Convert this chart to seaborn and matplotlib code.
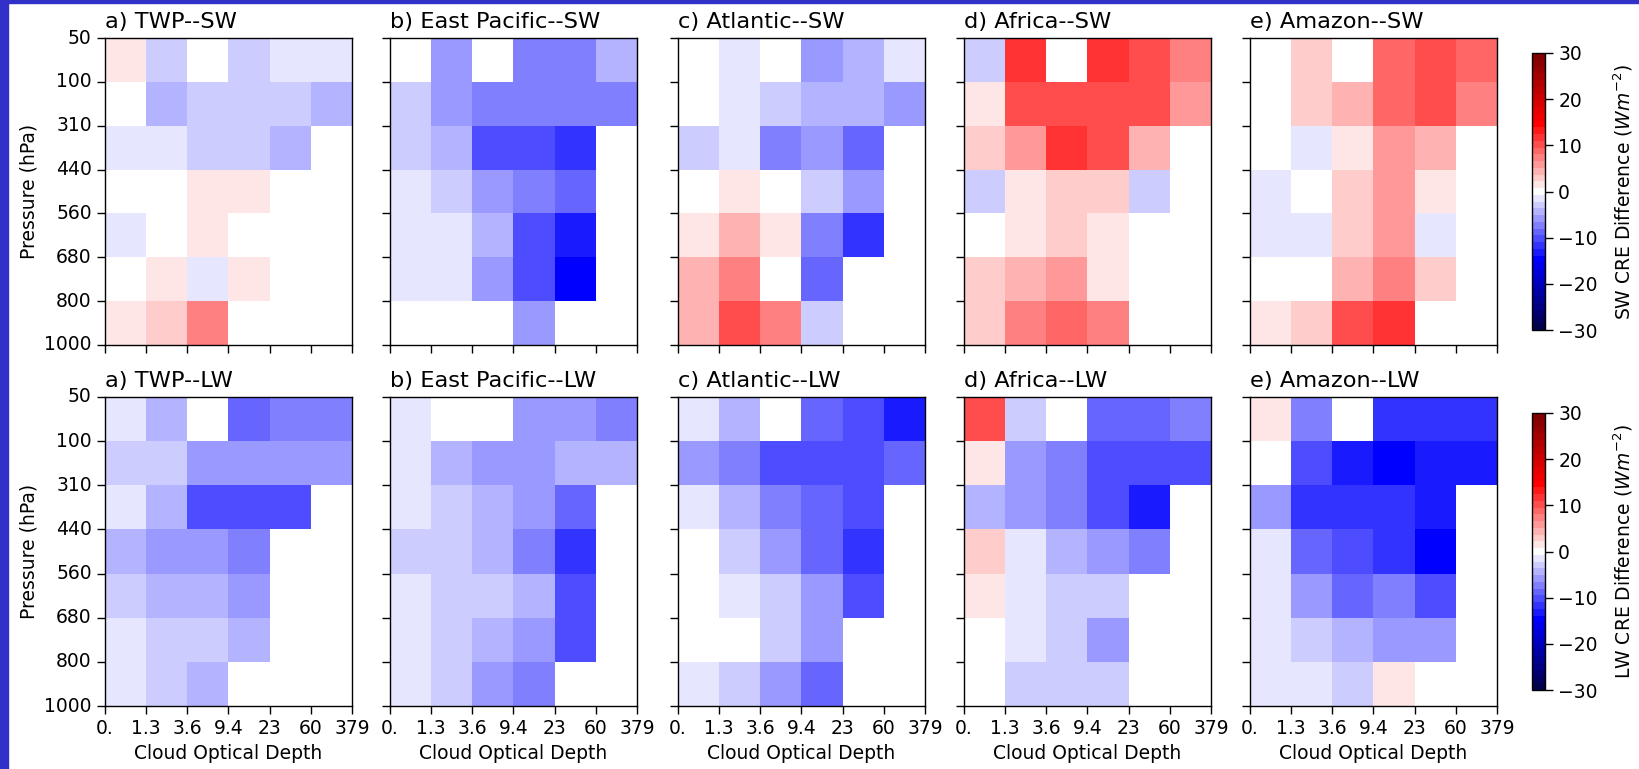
import numpy as np
import pandas as pd
import matplotlib
matplotlib.use("Agg")
import matplotlib.pyplot as plt
import seaborn as sns
from matplotlib.patches import Rectangle
from matplotlib.cm import ScalarMappable
from matplotlib.colors import Normalize

# ---------------- data (W m^-2) ----------------
tau_labels = ['0.', '1.3', '3.6', '9.4', '23', '60', '379']
p_labels = ['50', '100', '310', '440', '560', '680', '800', '1000']
regions = ['a) TWP', 'b) East Pacific', 'c) Atlantic', 'd) Africa', 'e) Amazon']

twp_sw = [[1.5, -3, 0, -3, -1.5, -1.5],
          [0, -4.5, -3, -3, -3, -4.5],
          [-1.5, -1.5, -3, -3, -4.5, 0],
          [0, 0, 1.5, 1.5, 0, 0],
          [-1.5, 0, 1.5, 0, 0, 0],
          [0, 1.5, -1.5, 1.5, 0, 0],
          [1.5, 3, 7.5, 0, 0, 0]]
epac_sw = [[0, -6, 0, -7.5, -7.5, -4.5],
           [-3, -6, -7.5, -7.5, -7.5, -7.5],
           [-3, -4.5, -10.5, -10.5, -12, 0],
           [-1.5, -3, -6, -7.5, -9, 0],
           [-1.5, -1.5, -4.5, -10.5, -13.5, 0],
           [-1.5, -1.5, -6, -10.5, -15, 0],
           [0, 0, 0, -6, 0, 0]]
atl_sw = [[0, -1.5, 0, -6, -4.5, -1.5],
          [0, -1.5, -3, -4.5, -4.5, -6],
          [-3, -1.5, -7.5, -6, -9, 0],
          [0, 1.5, 0, -3, -6, 0],
          [1.5, 4.5, 1.5, -7.5, -12, 0],
          [4.5, 7.5, 0, -9, 0, 0],
          [4.5, 10.5, 7.5, -3, 0, 0]]
afr_sw = [[-3, 12, 0, 12, 10.5, 7.5],
          [1.5, 10.5, 10.5, 10.5, 10.5, 6],
          [3, 6, 12, 10.5, 4.5, 0],
          [-3, 1.5, 3, 3, -3, 0],
          [0, 1.5, 3, 1.5, 0, 0],
          [3, 4.5, 6, 1.5, 0, 0],
          [3, 7.5, 9, 7.5, 0, 0]]
amz_sw = [[0, 3, 0, 9, 10.5, 9],
          [0, 3, 4.5, 9, 10.5, 7.5],
          [0, -1.5, 1.5, 6, 4.5, 0],
          [-1.5, 0, 3, 6, 1.5, 0],
          [-1.5, -1.5, 3, 6, -1.5, 0],
          [0, 0, 4.5, 7.5, 3, 0],
          [1.5, 3, 10.5, 12, 0, 0]]

twp_lw = [[-1.5, -4.5, 0, -9, -7.5, -7.5],
          [-3, -3, -6, -6, -6, -6],
          [-1.5, -4.5, -10.5, -10.5, -10.5, 0],
          [-4.5, -6, -6, -7.5, 0, 0],
          [-3, -4.5, -4.5, -6, 0, 0],
          [-1.5, -3, -3, -4.5, 0, 0],
          [-1.5, -3, -4.5, 0, 0, 0]]
epac_lw = [[-1.5, 0, 0, -6, -6, -7.5],
           [-1.5, -4.5, -6, -6, -4.5, -4.5],
           [-1.5, -3, -4.5, -6, -9, 0],
           [-3, -3, -4.5, -7.5, -12, 0],
           [-1.5, -3, -3, -4.5, -10.5, 0],
           [-1.5, -3, -4.5, -6, -10.5, 0],
           [-1.5, -3, -6, -7.5, 0, 0]]
atl_lw = [[-1.5, -4.5, 0, -9, -10.5, -13.5],
          [-6, -7.5, -10.5, -10.5, -10.5, -9],
          [-1.5, -4.5, -7.5, -9, -10.5, 0],
          [0, -3, -6, -9, -12, 0],
          [0, -1.5, -3, -6, -10.5, 0],
          [0, 0, -3, -6, 0, 0],
          [-1.5, -3, -6, -9, 0, 0]]
afr_lw = [[10.5, -3, 0, -9, -9, -7.5],
          [1.5, -6, -7.5, -10.5, -10.5, -10.5],
          [-4.5, -6, -7.5, -10.5, -13.5, 0],
          [3, -1.5, -4.5, -6, -7.5, 0],
          [1.5, -1.5, -3, -3, 0, 0],
          [0, -1.5, -3, -6, 0, 0],
          [0, -3, -3, -3, 0, 0]]
amz_lw = [[1.5, -7.5, 0, -12, -12, -12],
          [0, -10.5, -13.5, -15, -13.5, -13.5],
          [-6, -12, -12, -12, -13.5, 0],
          [-1.5, -9, -10.5, -12, -15, 0],
          [-1.5, -6, -9, -7.5, -10.5, 0],
          [-1.5, -3, -4.5, -6, -6, 0],
          [-1.5, -1.5, -3, 1.5, 0, 0]]

sw_sets = [twp_sw, epac_sw, atl_sw, afr_sw, amz_sw]
lw_sets = [twp_lw, epac_lw, atl_lw, afr_lw, amz_lw]

# ---------------- figure ----------------
W, H = 1640, 769
fig = plt.figure(figsize=(W / 100, H / 100), dpi=100)
plt.rcParams['font.family'] = ['DejaVu Sans']
FS = 13.5
cmap = plt.get_cmap('seismic', 41)
vmin, vmax = -30, 30

col_x = [105, 390, 678, 964, 1250]
ax_w = 247
rows_y = [(38, 345), (397, 706)]


def px_rect(x0, y0, x1, y1):
    return [x0 / W, 1 - y1 / H, (x1 - x0) / W, (y1 - y0) / H]


for r, (sets, tag) in enumerate([(sw_sets, 'SW'), (lw_sets, 'LW')]):
    y0, y1 = rows_y[r]
    for c, data in enumerate(sets):
        ax = fig.add_axes(px_rect(col_x[c], y0, col_x[c] + ax_w, y1))
        df = pd.DataFrame(np.array(data, dtype=float),
                          index=p_labels[:-1], columns=tau_labels[:-1])
        sns.heatmap(df, ax=ax, cmap=cmap, vmin=vmin, vmax=vmax, cbar=False,
                    linewidths=0)
        for sp in ax.spines.values():
            sp.set_visible(True)
            sp.set_color('black')
            sp.set_linewidth(1.0)
        ax.set_xticks(np.arange(len(tau_labels)))
        ax.set_yticks(np.arange(len(p_labels)))
        ax.tick_params(direction='out', length=6, width=1, labelsize=FS,
                       colors='black')
        if r == 1:
            ax.set_xticklabels(tau_labels, rotation=0)
            ax.set_xlabel('Cloud Optical Depth', fontsize=FS)
        else:
            ax.set_xticklabels([])
            ax.set_xlabel('')
        if c == 0:
            ax.set_yticklabels(p_labels, rotation=0)
            ax.set_ylabel('Pressure (hPa)', fontsize=FS)
        else:
            ax.set_yticklabels([])
            ax.set_ylabel('')
        ax.set_title(f'{regions[c]}--{tag}', loc='left', fontsize=16.2, pad=7)

    # colorbar
    cy0, cy1 = (53, 330) if r == 0 else (413, 690)
    cax = fig.add_axes(px_rect(1532, cy0, 1545, cy1))
    sm = ScalarMappable(norm=Normalize(vmin, vmax), cmap=cmap)
    cb = fig.colorbar(sm, cax=cax, ticks=[-30, -20, -10, 0, 10, 20, 30])
    cb.ax.tick_params(labelsize=FS, length=6, width=1)
    cb.outline.set_linewidth(1.0)
    cb.set_label(f'{tag} CRE Difference ($Wm^{{-2}}$)', fontsize=FS, labelpad=10)

# screenshot frame (left and top strips)
frame_col = '#3131c9'
fig.patches.append(Rectangle((0, 0), 8 / W, 1, transform=fig.transFigure,
                             color=frame_col, zorder=10))
fig.patches.append(Rectangle((0, 1 - 3 / H), 1, 3 / H, transform=fig.transFigure,
                             color=frame_col, zorder=10))

fig.savefig('out.png', dpi=100, facecolor='white')
